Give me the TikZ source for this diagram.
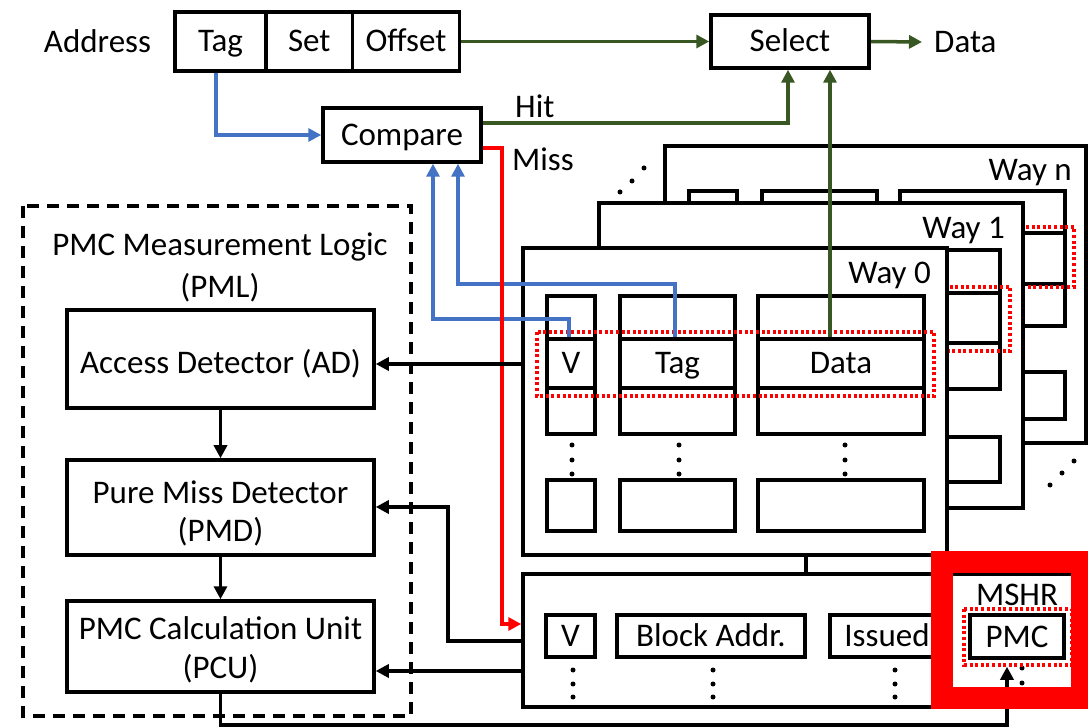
\documentclass[tikz,border=0pt]{standalone}
\usepackage{fontspec}
\setmainfont{Carlito}
\usetikzlibrary{arrows.meta,calc}
\definecolor{cblue}{HTML}{4472C4}
\definecolor{cgreen}{HTML}{385723}
\definecolor{cred}{HTML}{FF0000}
\begin{document}
\begin{tikzpicture}[x=1pt,y=-1pt,
  every node/.style={font=\fontsize{33}{39}\selectfont, inner sep=0pt},
  txt/.style={text height=21pt, text depth=0pt},
  box/.style={draw, line width=3.5pt, fill=white, text height=21pt, text depth=0pt},
  plain/.style={draw, line width=3.5pt, fill=white},
  wire/.style={line width=3.5pt},
  tip/.style={-{Triangle[length=13pt,width=13pt]}},
  reddot/.style={draw=cred, line width=4pt, dash pattern=on 3pt off 2.6pt},
]
\useasboundingbox (0,0) rectangle (1088,727);

% ---------- address & select ----------
\node[txt] (addr) at (97.5,42) {Address};
\node[box, minimum width=91pt, minimum height=59pt] (atag) at (220.5,41.5) {Tag};
\node[box, minimum width=86.5pt, minimum height=59pt] (aset) at (309.25,41.5) {Set};
\node[box, minimum width=107pt, minimum height=59pt] (aoff) at (406,41.5) {Offset};
\node[box, minimum width=158pt, minimum height=53pt] (sel) at (790,41.5) {Select};
\node[txt, anchor=west] (dout) at (934,42) {Data};
\node[box, minimum width=158pt, minimum height=54pt] (cmp) at (402,135) {Compare};
\node[txt, anchor=west] (hit) at (515,107) {Hit};
\node[txt, anchor=west] (miss) at (512,160) {Miss};

% ---------- PML ----------
\draw[wire, dash pattern=on 12pt off 8pt] (23,206) rectangle (411,716);
\node[align=center, font=\fontsize{33}{42}\selectfont] (pml) at (220,267) {PMC Measurement Logic\\(PML)};
\node[box, minimum width=307pt, minimum height=98pt, text height=29pt] (ad) at (220.5,359) {Access Detector (AD)};
\node[plain, minimum width=307pt, minimum height=95pt] (pmd) at (220.5,507.5) {};
\node[align=center, font=\fontsize{33}{38}\selectfont] (pmdt) at (220.5,513) {Pure Miss Detector\\(PMD)};
\node[plain, minimum width=307pt, minimum height=91pt] (pcu) at (220.5,646.5) {};
\node[align=center, font=\fontsize{33}{39}\selectfont] (pcut) at (220.5,650) {PMC Calculation Unit\\(PCU)};

% ---------- Way n ----------
\foreach \p in {(620,192),(632,181),(644,168),(1050,485),(1062,473),(1074,461)}
  \fill \p circle (2.5);
\node[plain, minimum width=421pt, minimum height=297pt] (wayn) at (875.5,294.5) {};
\node[txt, anchor=east] (waynl) at (1072,170) {Way n};
\foreach \a/\b in {689/737,762/877,900/1065}{
  \draw[wire] (\a,191) rectangle (\b,326) (\a,233) -- (\b,233) (\a,284) -- (\b,284);
  \draw[wire] (\a,372) rectangle (\b,419);
}
\draw[reddot] (679,227) rectangle (1074,287);

% ---------- Way 1 ----------
\node[plain, minimum width=424pt, minimum height=305pt] (way1) at (811,355.5) {};
\node[txt, anchor=east] (way1l) at (1005,228) {Way 1};
\foreach \a/\b in {623/671,696/811,834/1000}{
  \draw[wire] (\a,250) rectangle (\b,389) (\a,293) -- (\b,293) (\a,343) -- (\b,343);
  \draw[wire] (\a,437) rectangle (\b,482);
}
\draw[reddot] (613,287) rectangle (1010,351);

% ---------- Way 0 ----------
\node[plain, minimum width=424pt, minimum height=307pt] (way0) at (735,401.5) {};
\node[txt, anchor=east] (way0l) at (931,273) {Way 0};
\foreach \a/\b in {547/595,620/735,758/924}{
  \draw[wire] (\a,296) rectangle (\b,434);
  \draw[wire] (\a,480) rectangle (\b,531);
}
\node[box, minimum width=48pt, minimum height=49pt] (v0) at (571,363.5) {V};
\node[box, minimum width=115pt, minimum height=49pt] (tag0) at (677.5,363.5) {Tag};
\node[box, minimum width=166pt, minimum height=49pt] (data0) at (841,363.5) {Data};
\foreach \x in {572,679,845}
  \foreach \y in {445,460,474}
    \fill (\x,\y) circle (2.5);
\draw[reddot] (537,332) rectangle (934,396);

% ---------- MSHR ----------
\node[plain, minimum width=552pt, minimum height=133pt] (mshr) at (799,640.5) {};
\node[box, minimum width=49pt, minimum height=42pt] (mv) at (570.5,636) {V};
\node[box, minimum width=188pt, minimum height=42pt] (mba) at (711,636) {Block Addr.};
\node[box, minimum width=114pt, minimum height=42pt] (miss2) at (887,636) {Issued};
\node[box, minimum width=94pt, minimum height=43pt] (pmc) at (1017,636.5) {PMC};
\node[txt] (mshrl) at (1017,595) {MSHR};
\foreach \x in {573,713,895}
  \foreach \y in {670,684,697}
    \fill (\x,\y) circle (2.5);
\foreach \y in {668,683}
  \fill (1022,\y) circle (2.5);
\draw[reddot] (964,609) rectangle (1072,665);

% ---------- connectors ----------
\draw[wire, cblue, tip] ($(atag.south)+(-4.5,0)$) |- (cmp.west);
\draw[wire, cgreen, tip] (aoff.east) -- (sel.west);
\draw[wire, cgreen, tip] (sel.east) -- ($(dout.west)+(-12,0)$);
\draw[wire, cgreen, tip] ($(cmp.east)+(0,-12)$) -| ($(sel.south)+(-2,0)$);
\coordinate (d0up) at ($(data0.north)+(-11,0)$);
\draw[wire, cgreen, tip] (d0up) -- (d0up |- sel.south);

\coordinate (b1) at (433,319);
\coordinate (b2) at (458,284);
\draw[wire, cblue, tip] ($(v0.north)+(-2,0)$) |- (b1) -- (b1 |- cmp.south);
\draw[wire, cblue, tip] ($(tag0.north)+(-2.5,0)$) |- (b2) -- (b2 |- cmp.south);

\coordinate (missx) at (502,0);
\coordinate (redin) at (mshr.west |- 0,624);
\draw[wire, cred, tip] ($(cmp.east)+(0,13)$) -| (missx |- redin) -- (redin);

\draw[wire, tip] (way0.west |- 0,364) -- (ad.east |- 0,364);
\coordinate (pmdk) at (448,507);
\draw[wire, tip] (mshr.west |- 0,641) -| (pmdk) -- (pmdk -| pmd.east);
\draw[wire, tip] (mshr.west |- 0,671) -- (pcu.east |- 0,671);
\draw[wire, tip] (ad.south) -- (pmd.north);
\draw[wire, tip] (pmd.south) -- (pcu.north);
\coordinate (pmcin) at ($(pmc.south)+(-10,7)$);
\draw[wire, tip] (pcu.south) -- (pcu.south |- 0,725) -| (pmcin);
\draw[wire] (way0.south -| 806,0) -- (mshr.north -| 806,0);

% ---------- highlight ----------
\draw[cred, line width=22pt] (942,562) rectangle (1082,697.5);
\end{tikzpicture}
\end{document}
